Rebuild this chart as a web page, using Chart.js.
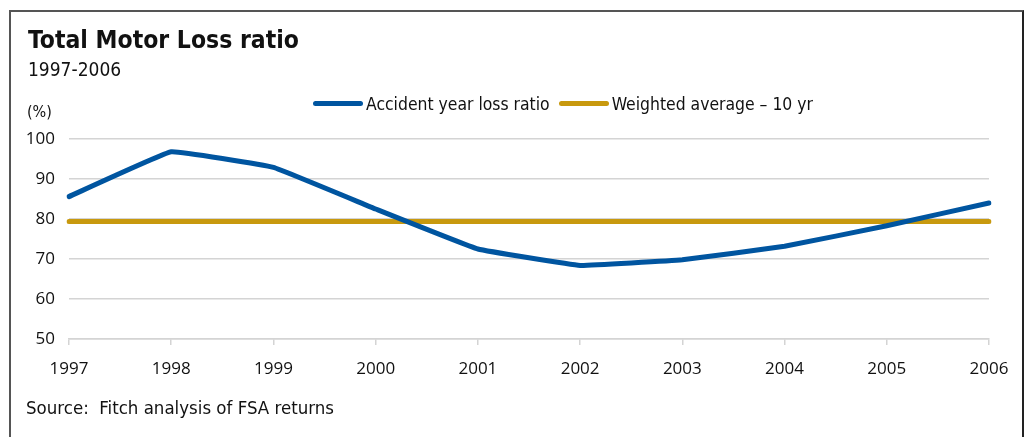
<!DOCTYPE html>
<html>
<head>
<meta charset="utf-8">
<script src="https://cdn.jsdelivr.net/npm/chart.js@4/dist/chart.umd.min.js"></script>
<style>
  html, body { margin: 0; padding: 0; background: #fff; }
  #wrap { position: relative; width: 1027px; height: 437px; overflow: hidden; }
  #frame { position: absolute; left: 9px; top: 10px; width: 1015px; height: 440px; border: 2px solid #555; border-right-color: #222; box-sizing: border-box; }
  canvas { position: absolute; left: 0; top: 0; }
  .txt { position: absolute; white-space: nowrap; color: #111; }
  #title { left: 28px; top: 25px; font: bold 24.5px "DejaVu Sans Condensed", "DejaVu Sans", sans-serif; }
  #sub { left: 28px; top: 58px; font: 19px "DejaVu Sans Condensed", "DejaVu Sans", sans-serif; }
  #unit { left: 27px; top: 102px; font: 16px "DejaVu Sans Condensed", "DejaVu Sans", sans-serif; }
  #source { left: 26px; top: 397px; font: 18.5px "DejaVu Sans Condensed", "DejaVu Sans", sans-serif; }
  #legend { position: absolute; left: 313px; top: 90px; font: 17.4px "DejaVu Sans Condensed", "DejaVu Sans", sans-serif; color: #111; white-space: nowrap; }
  .li { display: inline-flex; align-items: center; margin-right: 9px; }
  .sw { display: inline-block; width: 50px; height: 5px; border-radius: 3px; margin-right: 3px; }
</style>
</head>
<body>
<div id="wrap">
  <div id="frame"></div>
  <canvas id="c" width="1027" height="437"></canvas>
  <div class="txt" id="title">Total Motor Loss ratio</div>
  <div class="txt" id="sub">1997-2006</div>
  <div class="txt" id="unit">(%)</div>
  <div id="legend"></div>
  <div class="txt" id="source">Source:&nbsp; Fitch analysis of FSA returns</div>
</div>
<script>
const years = ['1997','1998','1999','2000','2001','2002','2003','2004','2005','2006'];
const accidentYearLossRatio = [85.6, 96.8, 92.9, 82.5, 72.5, 68.4, 69.8, 73.2, 78.3, 84.0];
const weightedAverage10yr = [79.4, 79.4, 79.4, 79.4, 79.4, 79.4, 79.4, 79.4, 79.4, 79.4];
const seriesNames = ['Accident year loss ratio', 'Weighted average \u2013 10 yr'];
const yTicks = [50, 60, 70, 80, 90, 100];

const BLUE = '#0055a0';
const GOLD = '#c8990e';

const ctx = document.getElementById('c').getContext('2d');
const chart = new Chart(ctx, {
  type: 'line',
  data: {
    labels: years,
    datasets: [
      { label: seriesNames[0], data: accidentYearLossRatio, borderColor: BLUE, backgroundColor: BLUE,
        borderWidth: 5, pointRadius: 0, tension: 0.07, borderCapStyle: 'round', borderJoinStyle: 'round', order: 1 },
      { label: seriesNames[1], data: weightedAverage10yr, borderColor: GOLD, backgroundColor: GOLD,
        borderWidth: 5, pointRadius: 0, tension: 0, borderCapStyle: 'round', order: 2 }
    ]
  },
  options: {
    responsive: false,
    animation: false,
    layout: { padding: { left: 0, right: 38, top: 139, bottom: 58 } },
    plugins: { legend: { display: false }, tooltip: { enabled: false }, title: { display: false } },
    scales: {
      x: {
        offset: false,
        grid: { display: true, drawOnChartArea: false, drawTicks: true, tickLength: 6, color: '#d4d4d4', lineWidth: 1.5 },
        border: { display: true, color: '#d4d4d4', width: 1.5 },
        ticks: { color: '#111', font: { family: 'Open Sans', size: 17 }, padding: 14, maxRotation: 0, autoSkip: false },
        afterFit: s => { s.height = 40; }
      },
      y: {
        min: 50, max: 100,
        afterBuildTicks: s => { s.ticks = yTicks.map(v => ({ value: v })); },
        grid: { color: '#d4d4d4', lineWidth: 1.5, drawTicks: false },
        border: { display: false },
        ticks: { color: '#111', font: { family: 'Open Sans', size: 17 }, padding: 14 },
        afterFit: s => { s.width = 69; }
      }
    }
  }
});

const leg = document.getElementById('legend');
chart.data.datasets.forEach(ds => {
  const it = document.createElement('span'); it.className = 'li';
  const sw = document.createElement('span'); sw.className = 'sw'; sw.style.background = ds.borderColor;
  const t = document.createElement('span'); t.textContent = ds.label;
  it.appendChild(sw); it.appendChild(t); leg.appendChild(it);
});
</script>
</body>
</html>
